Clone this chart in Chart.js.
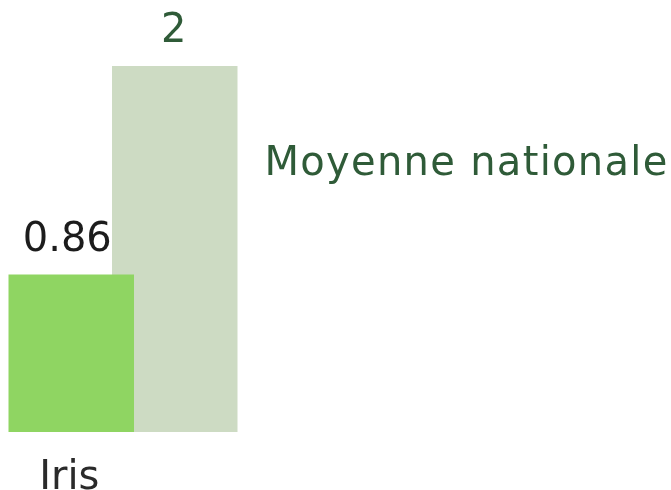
<!DOCTYPE html>
<html>
<head>
<meta charset="utf-8">
<script src="https://cdn.jsdelivr.net/npm/chart.js@4/dist/chart.umd.min.js"></script>
<style>
  body { margin: 0; background: #fff; }
  #wrap { width: 671px; height: 490px; }
</style>
</head>
<body>
<div id="wrap"><canvas id="myChart" width="671" height="490"></canvas></div>
<script>
// one group, two bars: the iris value against the national average
const seriesNames = ['Iris', 'Moyenne nationale'];
const seriesValues = [0.86, 2];
const valueLabels = ['0.86', '2'];
const barColors = ['#8fd562', '#cddbc3'];
const textColors = ['#1c1c1c', '#2f5b38'];

const FONT = '"DejaVu Sans", sans-serif';

// value above each bar, name under the first bar and beside the second
const barLabels = {
  id: 'barLabels',
  afterDatasetsDraw(chart) {
    const ctx = chart.ctx;
    ctx.save();
    ctx.font = '40px ' + FONT;
    chart.data.datasets.forEach((ds, i) => {
      const bar = chart.getDatasetMeta(i).data[0];
      ctx.fillStyle = textColors[i];
      ctx.textAlign = 'center';
      ctx.textBaseline = 'alphabetic';
      ctx.fillText(valueLabels[i], bar.x - (i === 0 ? 4 : 1), bar.y - 24);
      if (i === 0) {
        ctx.fillStyle = '#2a2a2a';
        ctx.fillText(seriesNames[i], bar.x - 2, bar.base + 57);
      } else {
        ctx.textAlign = 'left';
        ctx.letterSpacing = '1.3px';
        ctx.fillText(seriesNames[i], bar.x + bar.width / 2 + 27, bar.y + 109);
        ctx.letterSpacing = '0px';
      }
    });
    ctx.restore();
  }
};

const data = {
  labels: [''],
  datasets: seriesNames.map((name, i) => ({
    label: name,
    data: [seriesValues[i]],
    backgroundColor: barColors[i],
    borderWidth: 0,
    categoryPercentage: 1,
    barPercentage: 1.2126,
    clip: false,
    order: i
  }))
};

const config = {
  type: 'bar',
  data,
  options: {
    responsive: false,
    animation: false,
    layout: {
      padding: { left: 19.5, right: 444.5, top: 66, bottom: 58 }
    },
    plugins: {
      legend: { display: false },
      tooltip: { enabled: false }
    },
    scales: {
      x: { display: false },
      y: { display: false, min: 0, max: 2 }
    }
  },
  plugins: [barLabels]
};

const myChart = new Chart(document.getElementById('myChart'), config);
</script>
</body>
</html>
